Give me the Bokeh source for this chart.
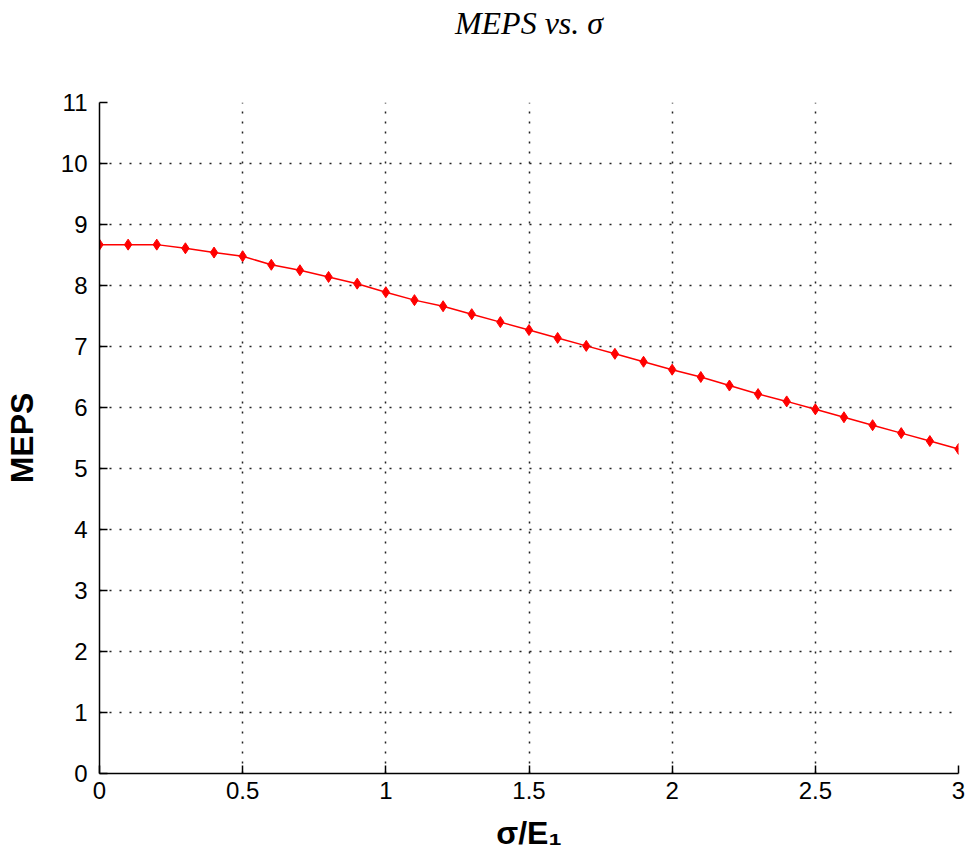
from bokeh.plotting import figure
from bokeh.models import Range1d, FixedTicker, LinearAxis
from bokeh.embed import file_html
from bokeh.resources import INLINE

# data
sigma_ratio = [0.0, 0.1, 0.2, 0.3, 0.4, 0.5, 0.6, 0.7, 0.8, 0.9, 1.0,
               1.1, 1.2, 1.3, 1.4, 1.5, 1.6, 1.7, 1.8, 1.9, 2.0,
               2.1, 2.2, 2.3, 2.4, 2.5, 2.6, 2.7, 2.8, 2.9, 3.0]
meps = [8.67, 8.67, 8.67, 8.61, 8.54, 8.48, 8.34, 8.25, 8.14, 8.03, 7.89,
        7.76, 7.66, 7.53, 7.40, 7.27, 7.14, 7.01, 6.88, 6.75, 6.62,
        6.50, 6.36, 6.22, 6.10, 5.97, 5.84, 5.71, 5.58, 5.45, 5.32]
x_ticks = [0, 0.5, 1, 1.5, 2, 2.5, 3]
x_tick_labels = ["0", "0.5", "1", "1.5", "2", "2.5", "3"]
y_ticks = list(range(0, 12))
title_text = "MEPS vs. σ"
x_label = "σ/E₁"
y_label = "MEPS"

W, H = 966, 865
p = figure(width=W, height=H, output_backend="svg", toolbar_location=None, title=None,
           x_range=Range1d(0, 3), y_range=Range1d(0, 11),
           min_border_left=95, min_border_right=8, min_border_top=102, min_border_bottom=92)
p.outline_line_color = None
p.background_fill_color = "white"
p.border_fill_color = "white"

xax = p.below[0]
yax = p.left[0]
xax.ticker = FixedTicker(ticks=x_ticks)
yax.ticker = FixedTicker(ticks=y_ticks)
xax.major_label_overrides = {t: l for t, l in zip(x_ticks, x_tick_labels)}

for ax in (xax, yax):
    ax.major_tick_in = 8
    ax.major_tick_out = 0
    ax.minor_tick_line_color = None
    ax.axis_line_color = "black"
    ax.axis_line_width = 1.5
    ax.major_tick_line_color = "black"
    ax.major_tick_line_width = 1.5
    ax.major_label_text_font = "Liberation Sans"
    ax.major_label_text_font_size = "24px"
    ax.major_label_text_color = "black"
    ax.axis_label_text_font = "Liberation Sans"
    ax.axis_label_text_font_style = "bold"
    ax.axis_label_text_color = "black"
yax.major_label_standoff = 12
xax.major_label_standoff = 8

yax.axis_label = y_label
yax.axis_label_text_font_size = "32px"
yax.axis_label_standoff = 18

xax.axis_label = x_label
xax.axis_label_text_font_size = "32px"
xax.axis_label_standoff = 13

# title drawn as the label of a bare axis above the frame (no ticks, no tick labels)
top_axis = LinearAxis(ticker=FixedTicker(ticks=[]), axis_label=title_text)
top_axis.axis_line_color = None
top_axis.major_tick_line_color = None
top_axis.minor_tick_line_color = None
top_axis.major_label_text_font_size = "0px"
top_axis.major_label_standoff = 0
top_axis.major_tick_out = 0
top_axis.major_tick_in = 0
top_axis.axis_label_text_font = "Liberation Serif"
top_axis.axis_label_text_font_style = "italic"
top_axis.axis_label_text_font_size = "32px"
top_axis.axis_label_text_color = "black"
top_axis.axis_label_standoff = 62
p.add_layout(top_axis, "above")

for g in (p.xgrid, p.ygrid):
    g.grid_line_color = "#222222"
    g.grid_line_dash = "2 8"
    g.grid_line_width = 1.5

p.line(sigma_ratio, meps, line_color="red", line_width=1.5)
p.scatter(sigma_ratio, meps, marker="diamond", size=11, color="red")

open("out.html", "w").write(file_html(p, INLINE))
